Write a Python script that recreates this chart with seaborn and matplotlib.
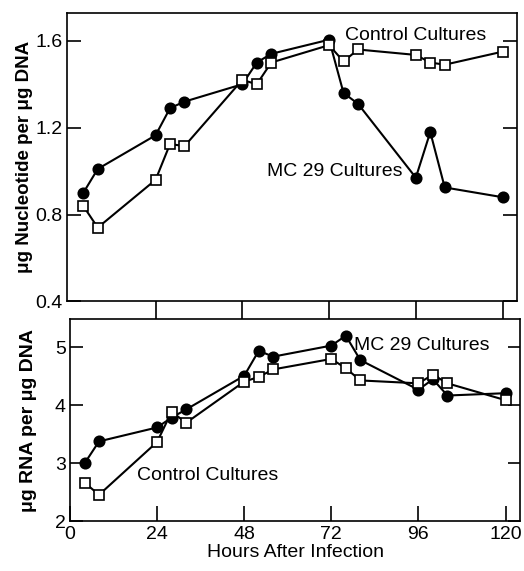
import numpy as np
import pandas as pd
import matplotlib
matplotlib.use("Agg")
import matplotlib.pyplot as plt
import seaborn as sns

# hours after infection (same sampling for all series)
hours = [4, 8, 24, 28, 32, 48, 52, 56, 72, 76, 80, 96, 100, 104, 120]

# top panel: ug nucleotide per ug DNA
nuc_mc29 = [0.90, 1.01, 1.165, 1.29, 1.32, 1.40, 1.50, 1.54, 1.605, 1.36, 1.31, 0.97, 1.18, 0.925, 0.88]
nuc_control = [0.84, 0.74, 0.96, 1.125, 1.115, 1.42, 1.40, 1.50, 1.58, 1.505, 1.56, 1.535, 1.50, 1.49, 1.55]

# bottom panel: ug RNA per ug DNA
rna_mc29 = [3.00, 3.38, 3.62, 3.79, 3.93, 4.51, 4.94, 4.84, 5.03, 5.20, 4.78, 4.27, 4.45, 4.17, 4.21]
rna_control = [2.67, 2.46, 3.37, 3.89, 3.70, 4.41, 4.49, 4.62, 4.80, 4.64, 4.43, 4.38, 4.53, 4.38, 4.09]

top_yticks = [0.4, 0.8, 1.2, 1.6]
bottom_yticks = [2, 3, 4, 5]
xticks = [0, 24, 48, 72, 96, 120]

sns.set_style("ticks")
plt.rcParams["font.family"] = ["Liberation Sans", "DejaVu Sans"]
plt.rcParams.update({
    "axes.linewidth": 1.2,
    "axes.edgecolor": "black",
    "text.color": "black",
    "axes.labelcolor": "black",
    "xtick.color": "black",
    "ytick.color": "black",
})

fig = plt.figure(figsize=(5.24, 5.71), dpi=100)
ax1 = fig.add_axes([0.1279, 0.472, 0.8588, 0.506])
ax2 = fig.add_axes([0.1336, 0.0867, 0.8588, 0.3538])

line_kw = dict(color="black", linewidth=1.5, markeredgecolor="black", markeredgewidth=1.2)


def draw(ax, mc29, control):
    sns.lineplot(x=hours, y=mc29, ax=ax, marker="o", markersize=7.5,
                 markerfacecolor="black", **line_kw)
    sns.lineplot(x=hours, y=control, ax=ax, marker="s", markersize=6.5,
                 markerfacecolor="white", **line_kw)


draw(ax1, nuc_mc29, nuc_control)
draw(ax2, rna_mc29, rna_control)

fs = 14

# top panel
ax1.set_xlim(-0.5, 124)
ax1.set_ylim(0.4, 1.73)
ax1.set_yticks(top_yticks)
ax1.set_yticklabels(["0.4", "0.8", "1.2", "1.6"])
ax1.set_xticks(xticks[1:])
ax1.set_xticklabels([])
ax1.tick_params(axis="y", direction="in", length=10, width=1.2, left=True, right=True,
                labelsize=fs, pad=3)
ax1.tick_params(axis="x", direction="out", length=13.5, width=1.2, labelbottom=False)
ax1.set_ylabel("μg Nucleotide per μg DNA", fontsize=13.5, fontweight="bold", labelpad=2)
ax1.text(96, 1.625, "Control Cultures", fontsize=fs, ha="center", va="center")
ax1.text(73.5, 1.0, "MC 29 Cultures", fontsize=fs, ha="center", va="center")

# bottom panel
ax2.set_xlim(0, 124)
ax2.set_ylim(2, 5.48)
ax2.set_yticks(bottom_yticks)
ax2.set_xticks(xticks)
ax2.tick_params(axis="both", direction="in", width=1.2, labelsize=fs)
ax2.tick_params(axis="y", length=9, left=True, right=True, pad=3)
ax2.tick_params(axis="x", length=11, pad=3)
ax2.set_ylabel("μg RNA per μg DNA", fontsize=14, fontweight="bold", labelpad=13)
ax2.set_xlabel("Hours After Infection", fontsize=fs, labelpad=1)
ax2.text(97, 5.04, "MC 29 Cultures", fontsize=fs, ha="center", va="center")
ax2.text(38, 2.79, "Control Cultures", fontsize=fs, ha="center", va="center")

for ax in (ax1, ax2):
    for s in ax.spines.values():
        s.set_visible(True)
        s.set_linewidth(1.2)
        s.set_color("black")

fig.savefig("out.png", dpi=100)
